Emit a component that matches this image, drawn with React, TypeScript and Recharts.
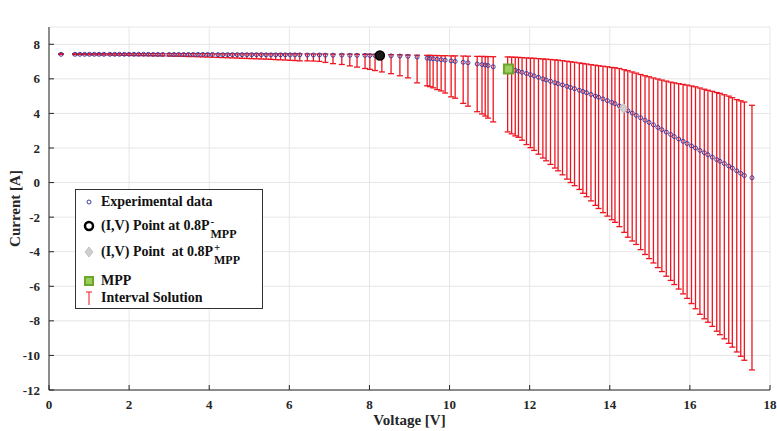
import { CartesianGrid, ErrorBar, Legend, Scatter, ScatterChart, XAxis, YAxis } from "recharts"

const serif = "'Liberation Serif', 'Times New Roman', serif"

// measured I-V points [V]
const voltage = [
  0.3, 0.65, 0.77, 0.89, 1.01, 1.13, 1.25, 1.37, 1.52, 1.64, 1.76, 1.88, 2.0, 2.12, 2.24, 2.36, 2.48, 2.6, 2.72, 2.84,
  3.0, 3.12, 3.24, 3.36, 3.48, 3.6, 3.72, 3.84, 3.96, 4.08, 4.22, 4.34, 4.46, 4.58, 4.7, 4.82, 4.94, 5.06, 5.18, 5.3,
  5.42, 5.54, 5.66, 5.78, 5.9, 6.02, 6.14, 6.26,
  6.45, 6.6, 6.75, 6.9, 7.09, 7.31, 7.51, 7.69, 7.89, 8.01, 8.14, 8.31, 8.54, 8.76, 8.96, 9.19, 9.44, 9.51, 9.59, 9.69,
  9.79, 9.89, 10.04, 10.14, 10.34, 10.46, 10.69, 10.81, 10.89, 10.96, 11.09,
  11.45, 11.55, 11.64, 11.72, 11.81, 11.92, 12.02, 12.11, 12.22, 12.33, 12.41, 12.52, 12.63, 12.71, 12.82, 12.93, 13.02,
  13.12, 13.24, 13.33, 13.42, 13.53, 13.64, 13.72, 13.83, 13.94, 14.05, 14.13, 14.24, 14.36, 14.45, 14.56, 14.66, 14.77,
  14.88, 14.98, 15.09, 15.2, 15.3, 15.41, 15.52, 15.61, 15.72, 15.83, 15.93, 16.04, 16.14, 16.25, 16.36, 16.45, 16.56,
  16.67, 16.75, 16.86, 16.97, 17.06, 17.17, 17.27, 17.36, 17.55,
]

// measured current [A]
const current = [
  7.42, 7.42, 7.42, 7.42, 7.42, 7.42, 7.42, 7.42, 7.42, 7.42, 7.42, 7.42, 7.42, 7.42, 7.42, 7.42, 7.42, 7.41, 7.41, 7.41,
  7.41, 7.41, 7.41, 7.41, 7.41, 7.41, 7.41, 7.41, 7.41, 7.41, 7.4, 7.4, 7.4, 7.4, 7.4, 7.4, 7.4, 7.4, 7.4, 7.4,
  7.39, 7.39, 7.39, 7.39, 7.39, 7.39, 7.39, 7.39,
  7.38, 7.38, 7.38, 7.37, 7.37, 7.37, 7.36, 7.36, 7.36, 7.35, 7.35, 7.34, 7.33, 7.32, 7.3, 7.26, 7.2, 7.18, 7.16, 7.13,
  7.11, 7.08, 7.04, 7.01, 6.96, 6.93, 6.86, 6.83, 6.8, 6.77, 6.7,
  6.58, 6.53, 6.49, 6.44, 6.38, 6.31, 6.24, 6.17, 6.09, 6.0, 5.94, 5.86, 5.78, 5.72, 5.65, 5.57, 5.5,
  5.43, 5.34, 5.27, 5.2, 5.1, 5.01, 4.94, 4.84, 4.74, 4.64, 4.56, 4.43, 4.28, 4.16, 4.02, 3.89, 3.75,
  3.61, 3.48, 3.34, 3.19, 3.06, 2.92, 2.78, 2.66, 2.52, 2.39, 2.26, 2.12, 2.0, 1.86, 1.73, 1.61, 1.47,
  1.33, 1.23, 1.1, 0.96, 0.84, 0.68, 0.53, 0.41, 0.28,
]

// interval solution, upper bound [A]
const upperBound = [
  7.46, 7.46, 7.46, 7.46, 7.46, 7.46, 7.46, 7.46, 7.46, 7.46, 7.46, 7.46, 7.46, 7.46, 7.46, 7.46, 7.46, 7.46, 7.46, 7.46,
  7.46, 7.46, 7.46, 7.46, 7.46, 7.46, 7.46, 7.46, 7.46, 7.45, 7.45, 7.45, 7.45, 7.45, 7.45, 7.45, 7.45, 7.45, 7.45, 7.45,
  7.45, 7.45, 7.45, 7.45, 7.45, 7.45, 7.45, 7.45,
  7.44, 7.44, 7.44, 7.44, 7.43, 7.43, 7.43, 7.42, 7.42, 7.42, 7.41, 7.41, 7.4, 7.39, 7.38, 7.37, 7.36, 7.36, 7.35, 7.35,
  7.34, 7.34, 7.33, 7.33, 7.32, 7.31, 7.3, 7.3, 7.29, 7.29, 7.28,
  7.27, 7.26, 7.25, 7.24, 7.23, 7.21, 7.2, 7.19, 7.17, 7.15, 7.14, 7.12, 7.1, 7.08, 7.05, 7.02, 6.99,
  6.96, 6.92, 6.89, 6.86, 6.82, 6.79, 6.76, 6.73, 6.7, 6.66, 6.64, 6.6, 6.53, 6.47, 6.4, 6.33, 6.25,
  6.18, 6.12, 6.05, 5.99, 5.93, 5.87, 5.81, 5.77, 5.72, 5.68, 5.64, 5.59, 5.54, 5.47, 5.4, 5.34, 5.28,
  5.21, 5.16, 5.08, 5.0, 4.91, 4.8, 4.73, 4.66, 4.47,
]

// interval solution, lower bound [A]
const lowerBound = [
  7.41, 7.4, 7.4, 7.4, 7.39, 7.39, 7.39, 7.38, 7.38, 7.37, 7.37, 7.36, 7.36, 7.35, 7.35, 7.35, 7.34, 7.34, 7.33, 7.33,
  7.32, 7.31, 7.31, 7.3, 7.29, 7.29, 7.28, 7.27, 7.26, 7.25, 7.24, 7.23, 7.22, 7.21, 7.2, 7.19, 7.18, 7.17, 7.16, 7.15,
  7.14, 7.13, 7.11, 7.1, 7.09, 7.07, 7.06, 7.04,
  7.04, 7.03, 7.01, 6.95, 6.88, 6.83, 6.75, 6.68, 6.6, 6.55, 6.48, 6.4, 6.3, 6.18, 6.06, 5.77, 5.6, 5.55, 5.48, 5.38,
  5.3, 5.18, 4.96, 4.88, 4.58, 4.42, 4.1, 3.97, 3.85, 3.73, 3.51,
  2.93, 2.82, 2.7, 2.62, 2.45, 2.2, 2.02, 1.86, 1.64, 1.42, 1.26, 1.05, 0.84, 0.68, 0.45, 0.2, 0.0,
  -0.18, -0.4, -0.62, -0.82, -1.06, -1.32, -1.5, -1.74, -1.94, -2.15, -2.3, -2.55, -2.88, -3.16, -3.38, -3.58, -3.88,
  -4.16, -4.4, -4.65, -4.92, -5.15, -5.42, -5.66, -5.9, -6.16, -6.44, -6.7, -7.0, -7.3, -7.62, -7.88, -8.08, -8.32,
  -8.6, -8.8, -9.04, -9.3, -9.52, -9.8, -10.05, -10.28, -10.84,
]

const lowPoint = [{ v: 8.26, i: 7.35 }]
const highPoint = [{ v: 14.34, i: 4.3 }]
const mppPoint = [{ v: 11.47, i: 6.57 }]

const xTicks = [0, 2, 4, 6, 8, 10, 12, 14, 16, 18]
const yTicks = [-12, -10, -8, -6, -4, -2, 0, 2, 4, 6, 8]

const measured = voltage.map((v, k) => ({
  v,
  i: current[k],
  band: [current[k] - lowerBound[k], upperBound[k] - current[k]],
}))

const axisColor = "#262626"
const tickStyle = { fill: axisColor, fontSize: 13, fontWeight: "bold", fontFamily: serif }
const red = "#ee1520"

const OpenDot = (p: any) => <circle cx={p.cx} cy={p.cy} r={2} fill="none" stroke="#3d3d9e" strokeWidth={1} />
const BlackDot = (p: any) => <circle cx={p.cx} cy={p.cy} r={4.5} fill="#1a1a1a" stroke="#000" strokeWidth={1.5} />
const GreyDiamond = (p: any) => (
  <path d={`M${p.cx},${p.cy - 5}L${p.cx + 4},${p.cy}L${p.cx},${p.cy + 5}L${p.cx - 4},${p.cy}Z`} fill="#cfcfcf" stroke="#c2c2c2" />
)
const GreenSquare = (p: any) => (
  <rect x={p.cx - 4.5} y={p.cy - 4.5} width={9} height={9} fill="#9ccc5a" stroke="#6aa52c" strokeWidth={2} />
)

const Sub = ({ sup }: { sup: string }) => (
  <span style={{ position: "relative", display: "inline-block", width: 36, height: 14, marginLeft: 1 }}>
    <span style={{ position: "absolute", left: 0, top: -6, fontSize: 11 }}>{sup}</span>
    <span style={{ position: "absolute", left: 0, top: 7, fontSize: 12 }}>MPP</span>
  </span>
)

function LegendBox() {
  const row = { display: "flex", alignItems: "center", height: 0, position: "absolute" as const, left: 0 }
  const icon = { width: 25, display: "flex", justifyContent: "center" }
  return (
    <div
      style={{
        position: "relative",
        width: 186,
        height: 118,
        border: "1px solid #333",
        background: "#fff",
        fontFamily: serif,
        fontWeight: "bold",
        fontSize: 14,
        lineHeight: "16px",
        color: "#111",
      }}
    >
      <div style={{ ...row, top: 12 }}>
        <div style={icon}>
          <svg width={8} height={8}>
            <circle cx={4} cy={4} r={2} fill="none" stroke="#3d3d9e" />
          </svg>
        </div>
        <span>Experimental data</span>
      </div>
      <div style={{ ...row, top: 36 }}>
        <div style={icon}>
          <svg width={12} height={12}>
            <circle cx={6} cy={6} r={4} fill="#fff" stroke="#000" strokeWidth={2.5} />
          </svg>
        </div>
        <span>(I,V) Point at 0.8P</span>
        <Sub sup="-" />
      </div>
      <div style={{ ...row, top: 62 }}>
        <div style={icon}>
          <svg width={12} height={12}>
            <path d="M6,1L10,6L6,11L2,6Z" fill="#cfcfcf" stroke="#c2c2c2" />
          </svg>
        </div>
        <span style={{ whiteSpace: "pre" }}>(I,V) Point  at 0.8P</span>
        <Sub sup="+" />
      </div>
      <div style={{ ...row, top: 91 }}>
        <div style={icon}>
          <svg width={10} height={10}>
            <rect x={1} y={1} width={8} height={8} fill="#9ccc5a" stroke="#6aa52c" strokeWidth={2} />
          </svg>
        </div>
        <span>MPP</span>
      </div>
      <div style={{ ...row, top: 108 }}>
        <div style={icon}>
          <svg width={8} height={14}>
            <line x1={4} y1={1} x2={4} y2={14} stroke={red} />
            <line x1={1} y1={1} x2={7} y2={1} stroke={red} />
          </svg>
        </div>
        <span>Interval Solution</span>
      </div>
    </div>
  )
}

const YTitle = (props: any) => {
  const vb = props.viewBox
  const x = vb.x + 15
  const y = vb.y + vb.height / 2
  return (
    <text x={x} y={y} transform={`rotate(-90, ${x}, ${y})`} textAnchor="middle" dominantBaseline="central"
      fill={axisColor} fontSize={15} fontWeight="bold" fontFamily={serif}>
      Current [A]
    </text>
  )
}

export default function App() {
  return (
    <div style={{ position: "absolute", left: 0, top: 0, width: 777, height: 431, background: "#fff" }}>
      <ScatterChart width={777} height={431} margin={{ top: 27, right: 7, bottom: 0, left: 0 }}>
        <CartesianGrid stroke="#e6e6e6" />
        <XAxis
          type="number"
          dataKey="v"
          domain={[0, 18]}
          ticks={xTicks}
          height={41}
          tickSize={-5}
          tickMargin={15}
          tick={tickStyle}
          axisLine={{ stroke: axisColor }}
          tickLine={{ stroke: axisColor }}
          label={{ value: "Voltage [V]", position: "insideBottom", offset: 6, fill: axisColor, fontSize: 15, fontWeight: "bold", fontFamily: serif }}
        />
        <XAxis
          xAxisId="top"
          orientation="top"
          type="number"
          domain={[0, 18]}
          ticks={xTicks}
          height={0}
          tickSize={-5}
          tickFormatter={() => ""}
          axisLine={{ stroke: axisColor }}
          tickLine={{ stroke: axisColor }}
          label={{ value: "I-V Curve", position: "top", offset: 7, fill: "#111", fontSize: 15, fontWeight: "bold", fontFamily: serif }}
        />
        <YAxis
          type="number"
          dataKey="i"
          domain={[-12, 9]}
          ticks={yTicks}
          width={49}
          tickSize={-5}
          tickMargin={14}
          tick={tickStyle}
          axisLine={{ stroke: axisColor }}
          tickLine={{ stroke: axisColor }}
          label={{ content: YTitle }}
        />
        <YAxis
          yAxisId="right"
          orientation="right"
          type="number"
          domain={[-12, 9]}
          ticks={yTicks}
          width={0}
          tickSize={-5}
          tickFormatter={() => ""}
          axisLine={{ stroke: axisColor }}
          tickLine={{ stroke: axisColor }}
        />
        <Scatter name="Experimental data" data={measured} shape={OpenDot} isAnimationActive={false}>
          <ErrorBar dataKey="band" direction="y" width={3} stroke={red} strokeWidth={1.3} />
        </Scatter>
        <Scatter name="high" data={highPoint} shape={GreyDiamond} isAnimationActive={false} />
        <Scatter name="mpp" data={mppPoint} shape={GreenSquare} isAnimationActive={false} />
        <Scatter name="low" data={lowPoint} shape={BlackDot} isAnimationActive={false} />
        <Legend
          layout="vertical"
          align="center"
          verticalAlign="middle"
          content={() => <LegendBox />}
          wrapperStyle={{ left: 75, top: 189, width: 188, height: 120 }}
        />
      </ScatterChart>
    </div>
  )
}
